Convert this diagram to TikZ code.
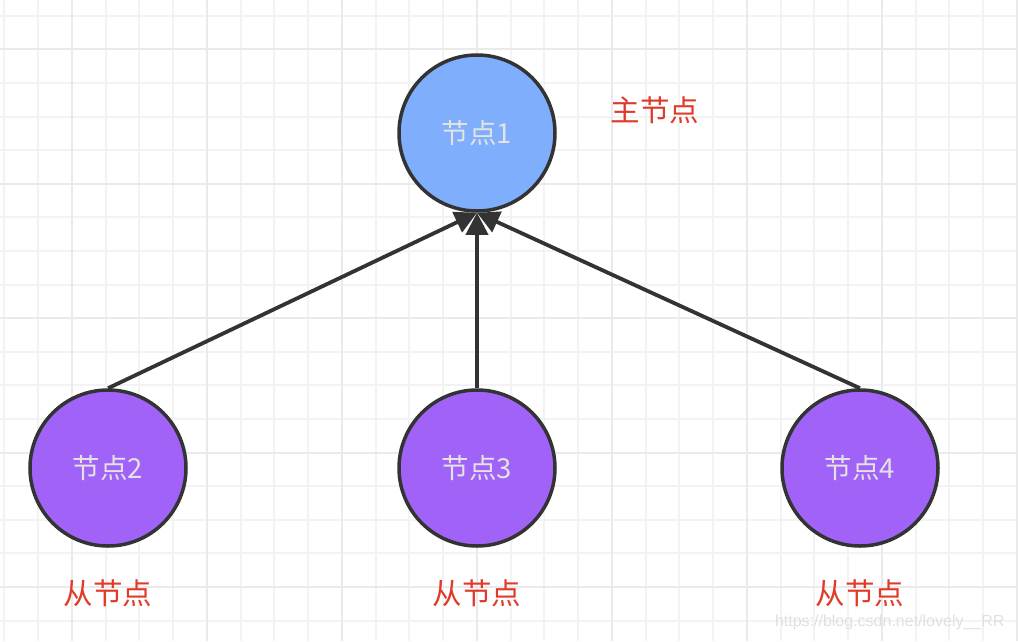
\documentclass[tikz,border=0pt]{standalone}
\usepackage{fontspec}
\setmainfont{Noto Sans CJK SC}
\newfontfamily\wmfont{Liberation Sans}
\usetikzlibrary{arrows.meta}
\definecolor{gridminor}{HTML}{F3F3F3}
\definecolor{gridmajor}{HTML}{EAEAEA}
\definecolor{edgecol}{HTML}{333333}
\definecolor{mastercol}{HTML}{7EAEFC}
\definecolor{slavecol}{HTML}{A163F7}
\definecolor{nodetext}{HTML}{E3E3E3}
\definecolor{labred}{HTML}{E03A2A}
\tikzset{
  nodecirc/.style={circle, draw=edgecol, line width=3.5pt, minimum size=156pt, inner sep=0pt, text=nodetext, font=\fontsize{27.5}{32}\selectfont},
  master/.style={nodecirc, fill=mastercol},
  slave/.style={nodecirc, fill=slavecol},
  redlabel/.style={text=labred, font=\fontsize{29.5}{34}\selectfont, inner sep=0pt},
  conn/.style={draw=edgecol, line width=3.8pt, -{Triangle[length=22pt,width=22pt]}},
}
\begin{document}
\begin{tikzpicture}[x=1pt,y=-1pt]
\useasboundingbox (0,0) rectangle (1018,641);
\fill[white] (0,0) rectangle (1018,641);
% minor grid
\foreach \i in {0,...,30} {
  \draw[gridminor, line width=2pt] ({4.3+33.75*\i},0) -- ({4.3+33.75*\i},641);
}
\foreach \j in {0,...,19} {
  \draw[gridminor, line width=2pt] (0,{15.7+33.6*\j}) -- (1018,{15.7+33.6*\j});
}
% major grid
\foreach \i in {0,...,7} {
  \draw[gridmajor, line width=2pt] ({71.8+135*\i},0) -- ({71.8+135*\i},641);
}
\foreach \j in {0,...,4} {
  \draw[gridmajor, line width=2pt] (0,{49.3+134.4*\j}) -- (1018,{49.3+134.4*\j});
}
\node[master] (n1) at (477,133) {节点1};
\node[slave] (n2) at (108,468) {节点2};
\node[slave] (n3) at (477,468) {节点3};
\node[slave] (n4) at (860,468) {节点4};
\node[redlabel] (l1) at (655,110) {主节点};
\node[redlabel] (l2) at (108,593) {从节点};
\node[redlabel] (l3) at (477,593) {从节点};
\node[redlabel] (l4) at (860,593) {从节点};
\draw[conn] (n2.north) -- (n1.south);
\draw[conn] (n3.north) -- (n1.south);
\draw[conn] (n4.north) -- (n1.south);
\node[text=black!12, font=\wmfont\fontsize{16}{19}\selectfont, anchor=east] (wm) at (1008,622) {https://blog.csdn.net/lovely\_\_RR};
\end{tikzpicture}
\end{document}
